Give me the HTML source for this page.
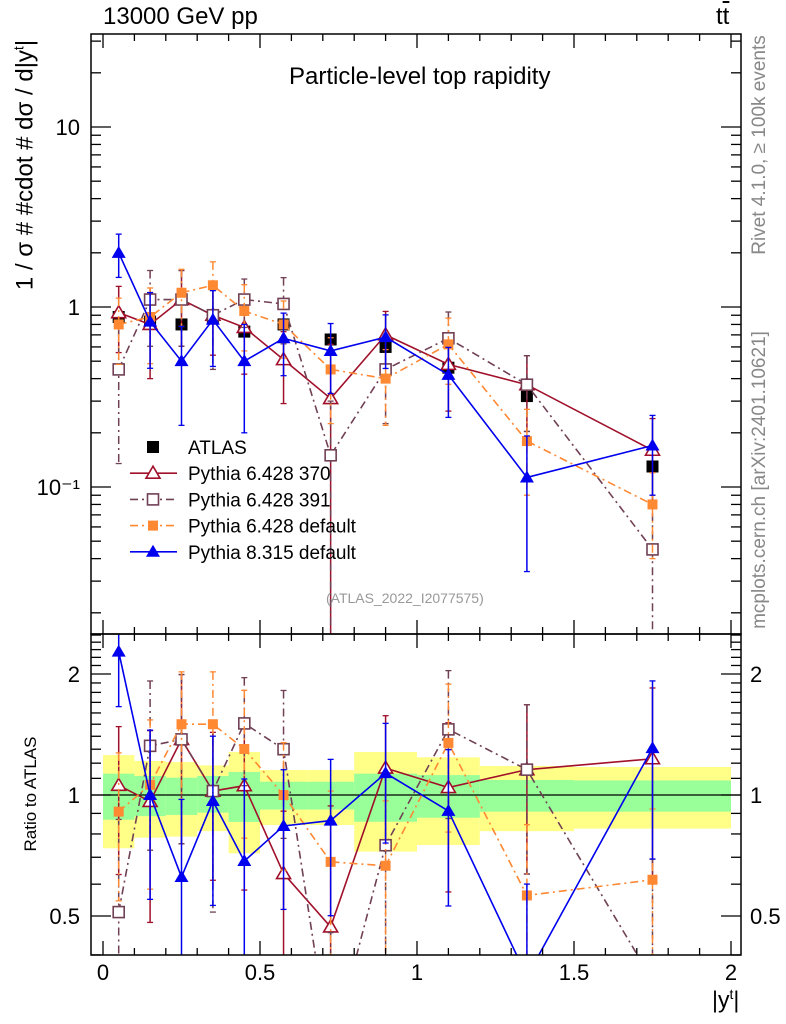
<!DOCTYPE html>
<html><head><meta charset="utf-8"><style>
html,body{margin:0;padding:0;width:786px;height:1024px;overflow:hidden;background:#fff}
svg{display:block;font-family:"Liberation Sans",sans-serif}
</style></head><body>
<div style="position:relative;width:786px;height:1024px;overflow:hidden">
<svg id="c" width="786" height="1024" viewBox="0 0 786 1024" xmlns="http://www.w3.org/2000/svg"></svg>
<div style="position:absolute;left:0;top:0;width:786px;height:1024px;pointer-events:none;font-family:'Liberation Sans',sans-serif;overflow:hidden">
<div style="position:absolute;left:103px;top:3px;font-size:24px">13000 GeV pp</div>
<div style="position:absolute;left:716px;top:3px;font-size:24px">t<span style="text-decoration:overline">t</span></div>
<div style="position:absolute;left:289px;top:63px;font-size:24px">Particle-level top rapidity</div>
<div style="position:absolute;left:326px;top:590px;font-size:14px;color:#999">(ATLAS_2022_I2077575)</div>
<div style="position:absolute;left:25px;top:165px;width:0;height:0"><div style="position:absolute;transform:translate(-50%,-50%) rotate(-90deg);white-space:nowrap;font-size:24px">1 / σ # #cdot # dσ / d|y<sup style="font-size:14px">t</sup>|</div></div>
<div style="position:absolute;left:31px;top:794px;width:0;height:0"><div style="position:absolute;transform:translate(-50%,-50%) rotate(-90deg);white-space:nowrap;font-size:17px">Ratio to ATLAS</div></div>
<div style="position:absolute;left:760px;top:145px;width:0;height:0"><div style="position:absolute;transform:translate(-50%,-50%) rotate(-90deg);white-space:nowrap;font-size:19px;color:#888">Rivet 4.1.0, ≥ 100k events</div></div>
<div style="position:absolute;left:760px;top:480px;width:0;height:0"><div style="position:absolute;transform:translate(-50%,-50%) rotate(-90deg);white-space:nowrap;font-size:19px;color:#888">mcplots.cern.ch [arXiv:2401.10621]</div></div>
<div style="position:absolute;left:712px;top:986px;font-size:23px">|y<sup style="font-size:14px">t</sup>|</div>
</div>
</div>
<script>
const centers=[0.05,0.15,0.25,0.35,0.45,0.575,0.725,0.9,1.1,1.35,1.75];
const edges=[0,0.1,0.2,0.3,0.4,0.5,0.65,0.8,1.0,1.2,1.5,2.0];
const atlas=[0.88,0.83,0.80,0.88,0.73,0.80,0.66,0.60,0.46,0.32,0.13];
const bandGreenHi=[1.13,1.115,1.104,1.115,1.141,1.079,1.079,1.13,1.121,1.09,1.087];
const bandGreenLo=[0.868,0.886,0.892,0.904,0.857,0.92,0.92,0.858,0.878,0.909,0.909];
const bandYellowHi=[1.257,1.215,1.208,1.185,1.279,1.154,1.154,1.279,1.241,1.181,1.174];
const bandYellowLo=[0.737,0.783,0.788,0.813,0.716,0.842,0.842,0.723,0.751,0.813,0.825];
const p370=[0.93,0.80,1.10,0.90,0.77,0.51,0.31,0.70,0.48,0.37,0.16];
const p370Err=[0.4,0.5,0.45,0.4,0.45,0.43,1.0,0.35,0.45,0.45,0.5];
const p391=[0.45,1.1,1.1,0.9,1.1,1.04,0.15,0.45,0.67,0.37,0.045];
const p391Err=[0.7,0.45,0.45,0.5,0.3,0.4,1.0,0.5,0.4,0.45,1.0];
const pdef=[0.80,0.88,1.20,1.32,0.95,0.80,0.45,0.40,0.62,0.18,0.08];
const pdefErr=[0.4,0.45,0.35,0.35,0.4,0.35,0.5,0.45,0.4,0.5,0.5];
const p8=[2.0,0.83,0.50,0.85,0.50,0.67,0.57,0.68,0.42,0.113,0.17];
const p8Err=[0.27,0.45,0.56,0.45,0.6,0.38,0.42,0.33,0.42,0.7,0.47];
const mainTicks=[0.1,1,10];
const mainTickLabels=["10\u207B\u00B9","1","10"];
const ratioTicks=[0.5,1,2];
const ratioTickLabels=["0.5","1","2"];
const xTicks=[0,0.5,1,1.5,2];
const xTickLabels=["0","0.5","1","1.5","2"];

const L=91,R=741,T=34,M=634,B=955;
const NS="http://www.w3.org/2000/svg";
const svg=document.getElementById('c');
function X(v){return 103+v*314;}
function Ym(v){return 307-180*Math.log10(v);}
function Yr(v){return 795-121*Math.log2(v);}
function el(tag,a,parent){const e=document.createElementNS(NS,tag);for(const k in a)e.setAttribute(k,a[k]);(parent||svg).appendChild(e);return e;}

const defs=el('defs',{});
const c1=el('clipPath',{id:'cm'},defs);el('rect',{x:L,y:T,width:R-L,height:M-T},c1);
const c2=el('clipPath',{id:'cr'},defs);el('rect',{x:L,y:M,width:R-L,height:B-M},c2);

const gBand=el('g',{});


for(let i=0;i<centers.length;i++){
  const r1=el('rect',{x:X(edges[i]),width:X(edges[i+1])-X(edges[i]),y:Yr(bandYellowHi[i]),height:Yr(bandYellowLo[i])-Yr(bandYellowHi[i]),fill:'#ffff88'},gBand);
  
  
}
for(let i=0;i<centers.length;i++){
  const r2=el('rect',{x:X(edges[i]),width:X(edges[i+1])-X(edges[i]),y:Yr(bandGreenHi[i]),height:Yr(bandGreenLo[i])-Yr(bandGreenHi[i]),fill:'#99ff99'},gBand);
  
  
}
el('line',{x1:L,x2:R,y1:Yr(1),y2:Yr(1),stroke:'#000','stroke-width':1.3});

function marker(g,type,x,y,color){
  let m;
  if(type==='sq') m=el('rect',{x:x-6,y:y-6,width:12,height:12,fill:'#000'},g);
  else if(type==='tri') m=el('path',{d:`M${x},${y-7}L${x+7},${y+5}L${x-7},${y+5}Z`,fill:'#fff',stroke:color,'stroke-width':1.6},g);
  else if(type==='osq') m=el('rect',{x:x-5.5,y:y-5.5,width:11,height:11,fill:'#fff',stroke:color,'stroke-width':1.6},g);
  else if(type==='fsq') m=el('rect',{x:x-5,y:y-5,width:10,height:10,fill:color},g);
  else if(type==='ftri') m=el('path',{d:`M${x},${y-7}L${x+7},${y+5}L${x-7},${y+5}Z`,fill:color},g);
  return m;
}
const series=[
 {name:'pythia-6428-370',vals:p370,err:p370Err,color:'#a0102a',dash:'',m:'tri'},
 {name:'pythia-6428-391',vals:p391,err:p391Err,color:'#704055',dash:'8,4,2,4',m:'osq'},
 {name:'pythia-6428-default',vals:pdef,err:pdefErr,color:'#ff8833',dash:'8,4,2,4',m:'fsq'},
 {name:'pythia-8315-default',vals:p8,err:p8Err,color:'#0000ee',dash:'',m:'ftri'}
];
function drawSeries(s,panel){
  const ratio=panel==='ratio';
  const Y=ratio?Yr:Ym;
  const g=el('g',{'clip-path':ratio?'url(#cr)':'url(#cm)'});
  
  
  const vals=s.vals.map((v,i)=>ratio?v/atlas[i]:v);
  let d='';
  vals.forEach((v,i)=>{d+=(i?'L':'M')+X(centers[i])+','+Y(v);});
  el('path',{d:d,fill:'none',stroke:s.color,'stroke-width':1.6,'stroke-dasharray':s.dash},g);
  vals.forEach((v,i)=>{
    const lo=Math.max(v*(1-s.err[i]),1e-4),hi=v*(1+s.err[i]);
    const x=X(centers[i]);
    el('line',{x1:x,x2:x,y1:Y(hi),y2:Y(lo),stroke:s.color,'stroke-width':1.5,'stroke-dasharray':s.dash},g);
    el('line',{x1:x-3,x2:x+3,y1:Y(hi),y2:Y(hi),stroke:s.color,'stroke-width':1.3},g);
    el('line',{x1:x-3,x2:x+3,y1:Y(lo),y2:Y(lo),stroke:s.color,'stroke-width':1.3},g);
  });
  vals.forEach((v,i)=>{
    const mk=marker(g,s.m,X(centers[i]),Y(v),s.color);
    
    
  });
}
const ga=el('g',{'clip-path':'url(#cm)'});


atlas.forEach((v,i)=>{
  const mk=marker(ga,'sq',X(centers[i]),Ym(v),'#000');
  
  
});
series.forEach(s=>{drawSeries(s,'main');drawSeries(s,'ratio');});

el('rect',{x:L,y:T,width:R-L,height:M-T,fill:'none',stroke:'#000','stroke-width':1.5});
el('rect',{x:L,y:M,width:R-L,height:B-M,fill:'none',stroke:'#000','stroke-width':1.5});

for(let k=0;k<=20;k++){
  const v=k/10,x=X(v),maj=k%5===0,len=maj?14:7;
  el('line',{x1:x,x2:x,y1:T,y2:T+len,stroke:'#000','stroke-width':1.3});
  el('line',{x1:x,x2:x,y1:M-len,y2:M,stroke:'#000','stroke-width':1.3});
  el('line',{x1:x,x2:x,y1:M,y2:M+len,stroke:'#000','stroke-width':1.3});
  el('line',{x1:x,x2:x,y1:B-len,y2:B,stroke:'#000','stroke-width':1.3});
}
xTicks.forEach((v,i)=>{
  const t=el('text',{x:X(v),y:980,'text-anchor':'middle','font-size':22});t.textContent=xTickLabels[i];
  
  
});
for(let e=-2;e<=1;e++){for(let m=1;m<=9;m++){
  const v=m*Math.pow(10,e),y=Ym(v);if(y<T||y>M)continue;
  const len=m===1?20:10;
  el('line',{x1:L,x2:L+len,y1:y,y2:y,stroke:'#000','stroke-width':1.3});
  el('line',{x1:R-len,x2:R,y1:y,y2:y,stroke:'#000','stroke-width':1.3});
}}
mainTicks.forEach((v,i)=>{
  const t=el('text',{x:80,y:Ym(v)+8,'text-anchor':'end','font-size':22});t.textContent=mainTickLabels[i];
  
  
});
[0.4,0.5,0.6,0.7,0.8,0.9,1,2].forEach(v=>{
  const y=Yr(v);if(y<M||y>B)return;const maj=ratioTicks.includes(v);const len=maj?20:10;
  el('line',{x1:L,x2:L+len,y1:y,y2:y,stroke:'#000','stroke-width':1.3});
  el('line',{x1:R-len,x2:R,y1:y,y2:y,stroke:'#000','stroke-width':1.3});
});
for(let k=11;k<=25;k++){const v=k/10;if(k===20)continue;const y=Yr(v);if(y<M)continue;
  el('line',{x1:L,x2:L+10,y1:y,y2:y,stroke:'#000','stroke-width':1.3});
  el('line',{x1:R-10,x2:R,y1:y,y2:y,stroke:'#000','stroke-width':1.3});}
ratioTicks.forEach((v,i)=>{
  const t=el('text',{x:80,y:Yr(v)+8,'text-anchor':'end','font-size':22});t.textContent=ratioTickLabels[i];
  
  
  const t2=el('text',{x:750,y:Yr(v)+8,'text-anchor':'start','font-size':22});t2.textContent=ratioTickLabels[i];
  
  
});

const leg=[['ATLAS','sq','#000',''],['Pythia 6.428 370','tri','#a0102a',''],['Pythia 6.428 391','osq','#704055','8,4,2,4'],['Pythia 6.428 default','fsq','#ff8833','8,4,2,4'],['Pythia 8.315 default','ftri','#0000ee','']];
const lg=el('g',{});


leg.forEach((e,i)=>{
  const y=447+i*26.2;
  const g=el('g',{},lg);
  
  
  if(i>0) el('line',{x1:130,x2:177,y1:y,y2:y,stroke:e[2],'stroke-width':1.6,'stroke-dasharray':e[3]},g);
  marker(g,e[1],153,y,e[2]);
  const t=el('text',{x:188,y:y+7,'font-size':19},g);t.textContent=e[0];
});
</script>
</body></html>
